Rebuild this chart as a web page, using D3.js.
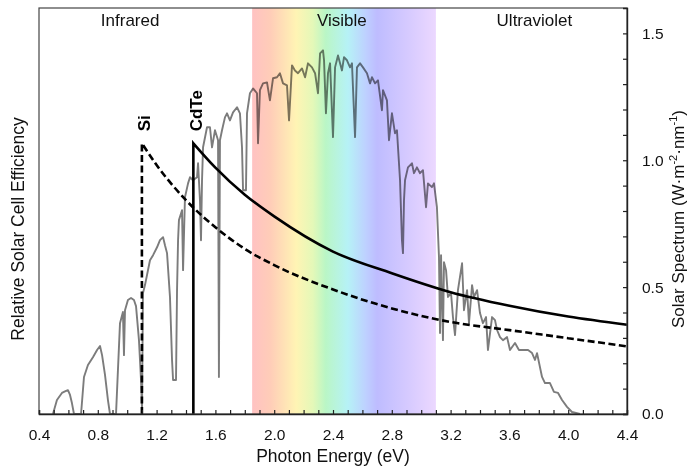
<!DOCTYPE html>
<html>
<head>
<meta charset="utf-8">
<script src="https://cdn.jsdelivr.net/npm/d3@7"></script>
<style>
  html, body { margin: 0; padding: 0; background: #fff; }
  svg { display: block; font-family: Arial, "Liberation Sans", sans-serif; }
</style>
</head>
<body>
<div id="chart"></div>
<script>
// AM1.5 solar spectrum: [photon energy (eV), W m^-2 nm^-1]
const spectrum = [
  [0.495,0],[0.522,0.055],[0.556,0.083],[0.584,0.091],[0.597,0.094],[0.611,0.075],[0.624,0.043],[0.638,0],
  [0.686,0],[0.706,0.146],[0.733,0.193],[0.767,0.224],[0.795,0.252],[0.815,0.268],[0.829,0.232],[0.849,0.154],[0.869,0.055],[0.883,0],
  [0.924,0],[0.937,0.173],[0.951,0.358],[0.971,0.402],[0.978,0.232],[0.985,0.409],[1.005,0.449],[1.026,0.457],[1.046,0.449],[1.060,0.425],[1.080,0.291],[1.094,0.134],[1.101,0.016],
  [1.107,0.476],[1.121,0.508],[1.155,0.606],[1.176,0.626],[1.203,0.657],[1.223,0.685],[1.244,0.697],[1.257,0.665],[1.271,0.634],[1.291,0.461],[1.305,0.213],[1.312,0.134],[1.332,0.134],
  [1.339,0.488],[1.346,0.685],[1.352,0.764],[1.373,0.803],[1.380,0.567],[1.393,0.854],[1.414,0.909],[1.427,0.933],[1.448,0.921],[1.475,0.933],[1.482,0.988],[1.495,0.843],[1.502,0.685],
  [1.509,0.921],[1.516,1.051],[1.543,1.130],[1.563,1.130],[1.577,1.051],[1.597,1.118],[1.618,1.079],[1.624,0.146],[1.631,1.079],[1.645,1.118],[1.665,1.169],[1.679,1.185],[1.699,1.157],
  [1.720,1.189],[1.747,1.209],[1.767,1.185],[1.781,1.051],[1.788,0.882],[1.808,0.882],[1.815,1.185],[1.835,1.264],[1.856,1.283],
  [1.883,1.264],[1.890,1.067],[1.903,1.276],[1.924,1.303],[1.951,1.307],[1.971,1.236],[1.992,1.323],[2.019,1.327],[2.039,1.343],[2.060,1.303],[2.087,1.295],[2.101,1.157],[2.121,1.374],
  [2.141,1.354],[2.162,1.343],[2.189,1.362],[2.210,1.327],[2.230,1.382],[2.257,1.366],[2.278,1.343],[2.298,1.264],[2.312,1.421],[2.332,1.433],[2.339,1.394],[2.352,1.185],[2.366,1.343],
  [2.380,1.382],[2.400,1.091],[2.414,1.366],[2.434,1.413],[2.461,1.354],[2.475,1.406],
  [2.495,1.394],[2.516,1.366],[2.529,1.382],[2.550,1.091],[2.563,1.366],[2.584,1.382],[2.604,1.366],[2.631,1.343],[2.652,1.303],[2.665,1.327],[2.686,1.303],[2.706,1.315],[2.733,1.197],
  [2.740,1.276],[2.767,1.236],[2.781,1.079],[2.801,1.185],[2.822,1.106],[2.835,1.118],[2.856,0.921],[2.869,0.685],[2.876,0.634],[2.883,0.843],[2.890,0.921],[2.910,0.972],[2.937,0.988],
  [2.951,0.949],[2.971,0.972],[2.992,0.949],[3.012,0.961],[3.033,0.815],[3.046,0.909],[3.073,0.894],[3.087,0.909],[3.107,0.815],[3.121,0.618],[3.128,0.319],[3.135,0.626],[3.148,0.291],[3.155,0.598],
  [3.169,0.567],[3.182,0.461],[3.203,0.476],[3.216,0.382],[3.230,0.311],[3.250,0.488],[3.278,0.594],[3.291,0.409],[3.312,0.488],[3.325,0.358],[3.346,0.508],[3.359,0.461],[3.380,0.488],
  [3.400,0.398],[3.420,0.358],[3.441,0.382],[3.454,0.252],[3.482,0.382],[3.502,0.370],[3.516,0.331],[3.536,0.303],[3.556,0.291],[3.584,0.303],[3.604,0.252],[3.638,0.280],[3.665,0.252],
  [3.699,0.252],[3.727,0.252],[3.754,0.240],[3.774,0.213],[3.788,0.240],[3.822,0.146],[3.842,0.122],[3.876,0.122],[3.903,0.087],[3.931,0.083],[3.958,0.055],[3.992,0.028],[4.026,0.008],[4.080,0]
];

// relative efficiency curves (first point is the band-gap edge at zero)
const siEnergy   = [1.1, 1.1, 1.2, 1.4, 1.6, 1.8, 2.0, 2.4, 2.8, 3.2, 3.6, 4.0, 4.4];
const siEff      = [0,   1.0, 0.92, 0.79, 0.69, 0.61, 0.55, 0.46, 0.39, 0.34, 0.31, 0.28, 0.25];
const cdteEnergy = [1.45, 1.45, 1.6, 1.8, 2.0, 2.4, 2.8, 3.2, 3.6, 4.0, 4.4];
const cdteEff    = [0,    1.0,  0.91, 0.81, 0.73, 0.60, 0.52, 0.45, 0.40, 0.36, 0.33];

// regions
const regionNames = ["Infrared", "Visible", "Ultraviolet"];
const regionCenters = [1.02, 2.46, 3.77];
const visibleRange = [1.85, 3.1];

// axis ticks
const xMajorTicks = [0.4, 0.8, 1.2, 1.6, 2.0, 2.4, 2.8, 3.2, 3.6, 4.0, 4.4];
const yMajorTicks = [0.0, 0.5, 1.0, 1.5];

const W = 691, H = 467;
const margin = { top: 8, right: 64, bottom: 53, left: 39 };
const width = W - margin.left - margin.right;
const height = H - margin.top - margin.bottom;

const svg = d3.select("#chart").append("svg")
  .attr("width", W).attr("height", H);

const g = svg.append("g")
  .attr("transform", `translate(${margin.left},${margin.top})`);

const x = d3.scaleLinear().domain([0.4, 4.4]).range([0, width]);
const ySpec = d3.scaleLinear().domain([0, 1.6]).range([height, 0]);
const yEff = d3.scaleLinear().domain([0, 1.5]).range([height, 0]);

// visible band gradient
const defs = svg.append("defs");
const grad = defs.append("linearGradient").attr("id", "vis")
  .attr("x1", "0%").attr("x2", "100%").attr("y1", "0%").attr("y2", "0%");
[
  [0, "#ffc2c2"], [0.1, "#ffcdb8"], [0.24, "#fff4b4"], [0.33, "#e4f8b8"],
  [0.4, "#baf6c6"], [0.52, "#b6f2f6"], [0.62, "#bed0ff"], [0.68, "#bebcff"],
  [0.85, "#d6caff"], [1, "#ecd8ff"]
].forEach(([o, c]) => grad.append("stop").attr("offset", o).attr("stop-color", c));

g.append("rect")
  .attr("x", x(visibleRange[0]))
  .attr("y", 0)
  .attr("width", x(visibleRange[1]) - x(visibleRange[0]))
  .attr("height", height)
  .attr("fill", "url(#vis)");

// solar spectrum
const specLine = d3.line()
  .x((d) => x(d[0]))
  .y((d) => ySpec(d[1]));

g.append("path")
  .datum(spectrum)
  .attr("fill", "none")
  .attr("stroke", "#7c7c7c")
  .attr("stroke-width", 1.9)
  .attr("stroke-linejoin", "round")
  .style("mix-blend-mode", "multiply")
  .attr("d", specLine);

// efficiency curves: straight edge then smooth decay
function effPath(energy, eff) {
  const pts = energy.map((e, i) => [x(e), yEff(eff[i])]);
  const edge = d3.line().curve(d3.curveLinear)(pts.slice(0, 2));
  const decay = d3.line().curve(d3.curveMonotoneX)(pts.slice(1));
  return edge + decay.replace(/^M/, "L");
}

g.append("path")
  .attr("fill", "none")
  .attr("stroke", "#000")
  .attr("stroke-width", 2.6)
  .attr("stroke-dasharray", "7,3.5")
  .attr("d", effPath(siEnergy, siEff));

g.append("path")
  .attr("fill", "none")
  .attr("stroke", "#000")
  .attr("stroke-width", 2.6)
  .attr("d", effPath(cdteEnergy, cdteEff));

// material labels
[["Si", siEnergy[0], 8], ["CdTe", cdteEnergy[0], 9]].forEach(([t, e, off]) => {
  const tx = x(e) + off, ty = yEff(1.0) - 12;
  g.append("text")
    .attr("transform", `translate(${tx},${ty}) rotate(-90)`)
    .attr("font-size", "17px")
    .attr("font-weight", "bold")
    .attr("fill", "#000")
    .text(t);
});

// region names
regionNames.forEach((n, i) => {
  g.append("text")
    .attr("x", x(regionCenters[i]))
    .attr("y", 18)
    .attr("text-anchor", "middle")
    .attr("font-size", "17px")
    .attr("fill", "#111")
    .text(n);
});

// frame
g.append("rect")
  .attr("width", width).attr("height", height)
  .attr("fill", "none")
  .attr("stroke", "#444")
  .attr("stroke-width", 1.2);

// x axis
const xAll = d3.range(4, 45).map((v) => v / 10);
const xAxis = g.append("g")
  .attr("transform", `translate(0,${height})`)
  .call(d3.axisBottom(x)
    .tickValues(xAll)
    .tickSize(-4)
    .tickPadding(15)
    .tickFormat((d) => xMajorTicks.some((t) => Math.abs(t - d) < 1e-6) ? d3.format(".1f")(d) : ""));
xAxis.select(".domain").attr("stroke", "#222").attr("stroke-width", 1.4);
xAxis.selectAll(".tick line").attr("stroke", "#222").attr("stroke-width", 1.2);
xAxis.selectAll("text").attr("font-size", "15.5px").attr("fill", "#111")
  .attr("font-family", "Arial, 'Liberation Sans', sans-serif");

// right axis (solar spectrum)
const yAll = d3.range(0, 16).map((v) => v / 10);
const yAxis = g.append("g")
  .attr("transform", `translate(${width},0)`)
  .call(d3.axisRight(ySpec)
    .tickValues(yAll)
    .tickSize(-4)
    .tickPadding(15)
    .tickFormat((d) => yMajorTicks.some((t) => Math.abs(t - d) < 1e-6) ? d3.format(".1f")(d) : ""));
yAxis.select(".domain").attr("stroke", "#222").attr("stroke-width", 1.4);
yAxis.selectAll(".tick line").attr("stroke", "#222").attr("stroke-width", 1.2);
yAxis.selectAll("text").attr("font-size", "15.5px").attr("fill", "#111")
  .attr("font-family", "Arial, 'Liberation Sans', sans-serif");

// axis titles
svg.append("text")
  .attr("x", margin.left + width / 2)
  .attr("y", H - 5)
  .attr("text-anchor", "middle")
  .attr("font-size", "17.5px")
  .attr("fill", "#111")
  .text("Photon Energy (eV)");

svg.append("text")
  .attr("transform", `translate(24,229) rotate(-90)`)
  .attr("text-anchor", "middle")
  .attr("font-size", "17.5px")
  .attr("fill", "#111")
  .text("Relative Solar Cell Efficiency");

const rt = svg.append("text")
  .attr("transform", `translate(684,219) rotate(-90)`)
  .attr("text-anchor", "middle")
  .attr("font-size", "17px")
  .attr("fill", "#111");
rt.append("tspan").text("Solar Spectrum (W·m");
rt.append("tspan").attr("font-size", "11px").attr("dy", "-7").text("-2");
rt.append("tspan").attr("dy", "7").text("·nm");
rt.append("tspan").attr("font-size", "11px").attr("dy", "-7").text("-1");
rt.append("tspan").attr("dy", "7").text(")");
</script>
</body>
</html>
